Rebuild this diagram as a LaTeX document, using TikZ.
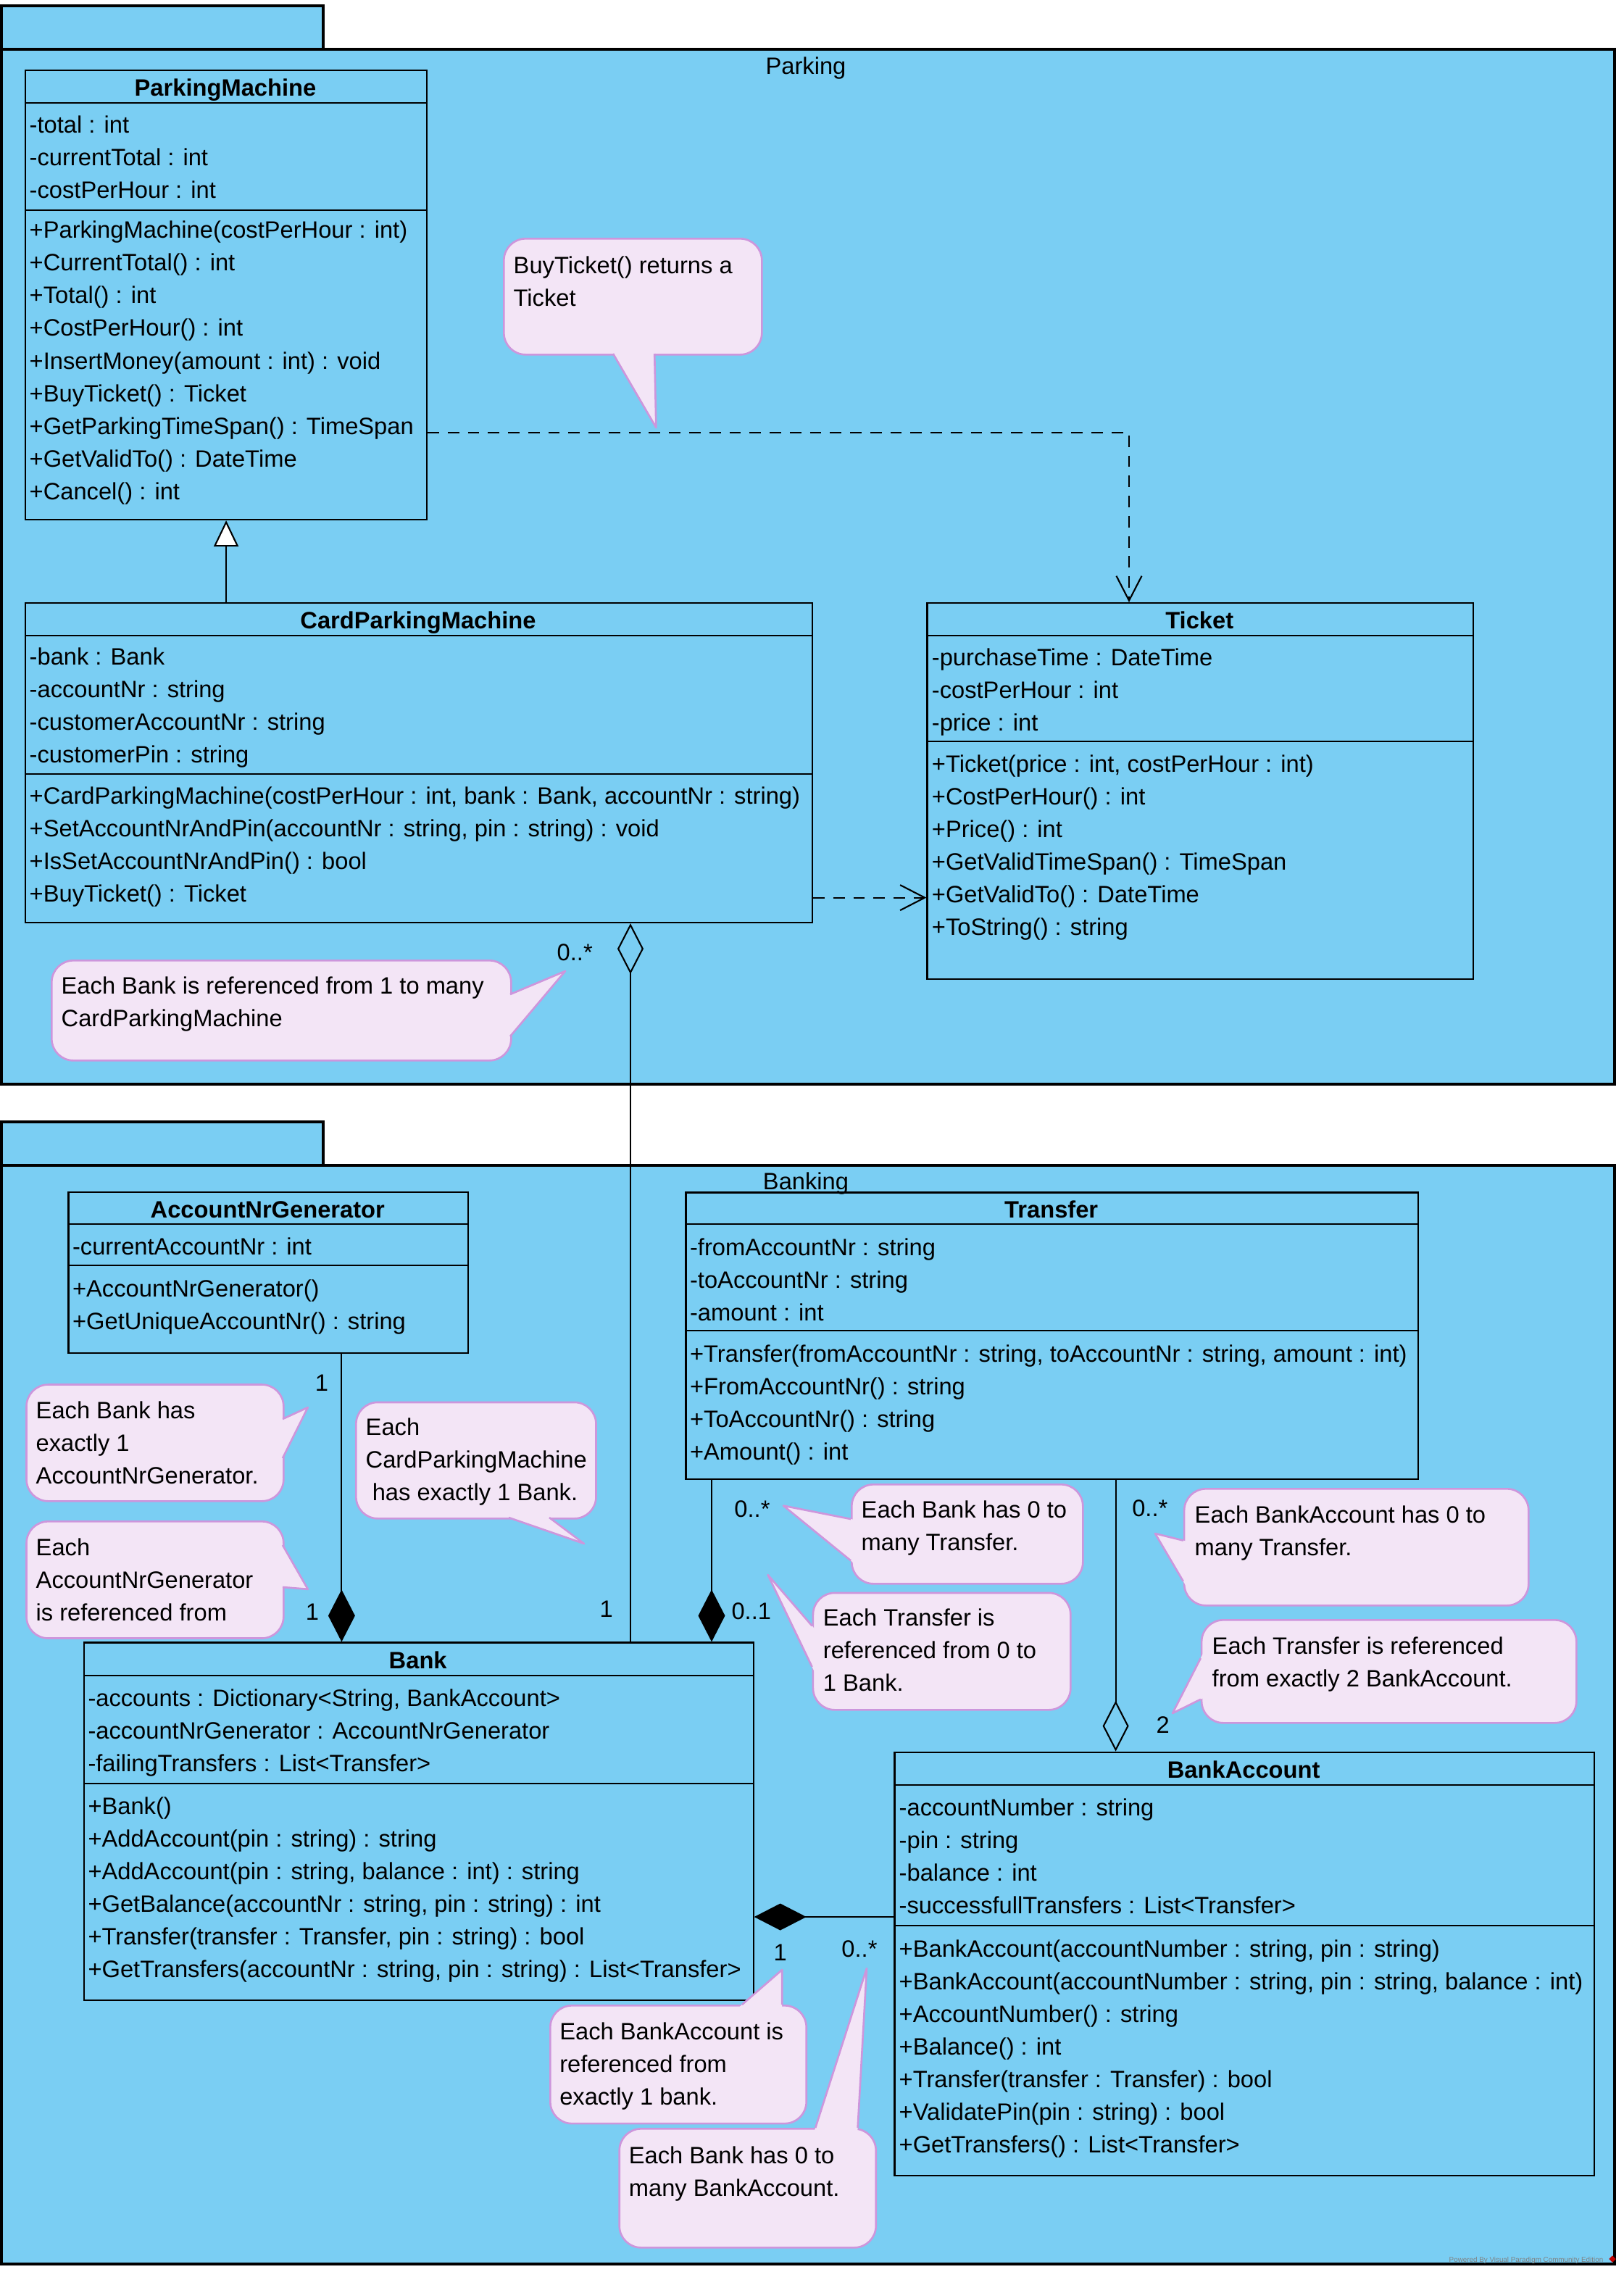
\documentclass[tikz,border=0pt]{standalone}
\usepackage{fontspec}
\setmainfont{Liberation Sans}
\usetikzlibrary{arrows.meta,calc,shapes.geometric}

\definecolor{pkgblue}{RGB}{122,206,243}
\definecolor{notefill}{RGB}{243,229,246}
\definecolor{noteedge}{RGB}{205,150,220}

% class box: name, x1, y1, x2, y2, header line, attribute line, title
\newcommand{\umlclass}[8]{%
  \node[classbox, minimum width={(#4-#2)*0.02cm}, minimum height={(#5-#3)*0.02cm}] (#1) at (#2,#3) {};
  \draw[line width=0.6pt] (#2,#6) -- (#4,#6);
  \draw[line width=0.6pt] (#2,#7) -- (#4,#7);
  \node[title] (#1-title) at ({(#2+#4)/2},{(#3+#6)/2+6.8}) {#8};
}
% text lines: name, x, first baseline, lines
\newcommand{\members}[4]{%
  \foreach \txt [count=\k from 0] in {#4}
    \node[member] (#1-\k) at (#2,{#3+\k*22.55}) {\txt};
}
% note bubble: name, x1, y1, x2, y2, pointer base, tip, pointer base
\newcommand{\umlnote}[8]{%
  \node[note, minimum width={(#4-#2)*0.02cm}, minimum height={(#5-#3)*0.02cm}] (#1) at (#2,#3) {};
  \fill[notefill] ($(#6)!-3pt!(#7)$) -- (#7) -- ($(#8)!-3pt!(#7)$) -- cycle;
  \draw[noteedge, line width=0.75pt, line join=round] (#6) -- (#7) -- (#8);
}

\begin{document}
\begin{tikzpicture}[
    x=0.02cm, y=-0.02cm,
    every node/.style={font=\fontsize{9.3}{12.8}\selectfont},
    pkg/.style={draw, fill=pkgblue, line width=1pt, anchor=north west, inner sep=0},
    classbox/.style={draw, line width=0.6pt, anchor=north west, inner sep=0},
    title/.style={anchor=base, inner sep=0, font=\fontsize{9.3}{12.8}\selectfont\bfseries},
    member/.style={anchor=base west, inner sep=0},
    mult/.style={inner sep=0},
    note/.style={draw=noteedge, fill=notefill, line width=0.75pt, rounded corners=0.3cm, anchor=north west, inner sep=0},
    depend/.style={line width=0.6pt, dash pattern=on 4.5pt off 3.4pt, -{Straight Barb[length=0.34cm,width=0.35cm]}},
    inherit/.style={line width=0.6pt, -{Triangle[fill=white,length=0.36cm,width=0.34cm]}},
    compose/.style={line width=0.6pt, {Diamond[length=0.72cm,width=0.37cm]}-},
    aggregate/.style={line width=0.6pt, {Diamond[open,length=0.7cm,width=0.36cm]}-}
  ]
  \useasboundingbox (0,0) rectangle (1120.5,1567.5);

  % Packages
  \node[pkg, minimum width={222*0.02cm}, minimum height={30*0.02cm}] (PT) at (0,3) {};
  \node[pkg, minimum width={1113*0.02cm}, minimum height={714*0.02cm}] (P) at (0,33) {};
  \node[anchor=base, inner sep=0] (P-name) at (556,51) {Parking};
  \node[pkg, minimum width={222*0.02cm}, minimum height={30*0.02cm}] (BT) at (0,773) {};
  \node[pkg, minimum width={1113*0.02cm}, minimum height={758*0.02cm}] (B) at (0,803) {};
  \node[anchor=base, inner sep=0] (B-name) at (556,820.5) {Banking};

  % Classes
  \umlclass{PM}{17}{48}{294}{358}{71}{145}{ParkingMachine}
  \members{PM-a}{20}{91.6}{-total : int, -currentTotal : int, -costPerHour : int}
  \members{PM-o}{20}{164.3}{+ParkingMachine(costPerHour : int), +CurrentTotal() : int, +Total() : int,
    +CostPerHour() : int, +InsertMoney(amount : int) : void, +BuyTicket() : Ticket,
    +GetParkingTimeSpan() : TimeSpan, +GetValidTo() : DateTime, +Cancel() : int}

  \umlclass{CPM}{17}{415.5}{560}{636}{438.3}{534}{CardParkingMachine}
  \members{CPM-a}{20}{458.6}{-bank : Bank, -accountNr : string, -customerAccountNr : string, -customerPin : string}
  \members{CPM-o}{20}{554.6}{{+CardParkingMachine(costPerHour : int, bank : Bank, accountNr : string)},
    {+SetAccountNrAndPin(accountNr : string, pin : string) : void}, +IsSetAccountNrAndPin() : bool,
    +BuyTicket() : Ticket}

  \umlclass{TK}{639.2}{415.5}{1016}{675}{438.3}{511.3}{Ticket}
  \members{TK-a}{642.6}{459}{-purchaseTime : DateTime, -costPerHour : int, -price : int}
  \members{TK-o}{642.6}{532.6}{{+Ticket(price : int, costPerHour : int)}, +CostPerHour() : int, +Price() : int,
    +GetValidTimeSpan() : TimeSpan, +GetValidTo() : DateTime, +ToString() : string}

  \umlclass{ANG}{46.7}{822}{322.6}{933}{844.4}{873}{AccountNrGenerator}
  \members{ANG-a}{49.7}{865.8}{-currentAccountNr : int}
  \members{ANG-o}{49.7}{894.6}{+AccountNrGenerator(), +GetUniqueAccountNr() : string}

  \umlclass{TR}{472.7}{822.2}{978}{1020}{844.6}{918}{Transfer}
  \members{TR-a}{475.7}{866.3}{-fromAccountNr : string, -toAccountNr : string, -amount : int}
  \members{TR-o}{475.7}{939.6}{{+Transfer(fromAccountNr : string, toAccountNr : string, amount : int)},
    +FromAccountNr() : string, +ToAccountNr() : string, +Amount() : int}

  \umlclass{BK}{57.4}{1132.7}{519.3}{1379.4}{1156}{1230.6}{Bank}
  \members{BK-a}{60.4}{1177.3}{{-accounts : Dictionary<String, BankAccount>}, -accountNrGenerator : AccountNrGenerator,
    -failingTransfers : List<Transfer>}
  \members{BK-o}{60.4}{1251.6}{+Bank(), +AddAccount(pin : string) : string, {+AddAccount(pin : string, balance : int) : string},
    {+GetBalance(accountNr : string, pin : string) : int}, {+Transfer(transfer : Transfer, pin : string) : bool},
    {+GetTransfers(accountNr : string, pin : string) : List<Transfer>}}

  \umlclass{BA}{616.7}{1208.3}{1099.5}{1500.5}{1231.3}{1328.5}{BankAccount}
  \members{BA-a}{620}{1252.6}{-accountNumber : string, -pin : string, -balance : int, -successfullTransfers : List<Transfer>}
  \members{BA-o}{620}{1350}{{+BankAccount(accountNumber : string, pin : string)},
    {+BankAccount(accountNumber : string, pin : string, balance : int)}, +AccountNumber() : string, +Balance() : int,
    +Transfer(transfer : Transfer) : bool, +ValidatePin(pin : string) : bool, +GetTransfers() : List<Transfer>}

  % Notes
  \umlnote{N1}{347}{164}{525}{244}{423,244}{452.7,295}{451.6,244}
  \members{N1-t}{354}{188.6}{BuyTicket() returns a, Ticket}
  \umlnote{N2}{35}{662}{352}{731}{352,686}{390,670}{352,715}
  \members{N2-t}{42}{685.6}{Each Bank is referenced from 1 to many, CardParkingMachine}
  \umlnote{N3}{17.6}{954.6}{195}{1035}{195,979}{212.4,971}{195,1006}
  \members{N3-t}{24.5}{978.6}{Each Bank has, exactly 1, AccountNrGenerator.}
  \umlnote{N4}{17.6}{1049}{195}{1129.6}{195,1066}{212.4,1096.4}{195,1095}
  \members{N4-t}{24.5}{1073.2}{Each, AccountNrGenerator, is referenced from}
  \umlnote{N5}{245}{966.8}{410.6}{1047}{351,1047}{403,1065}{379,1047}
  \members{N5-t}{252}{990.3}{Each, CardParkingMachine, {\ has exactly 1 Bank.}}
  \umlnote{N6}{587}{1023.5}{746.5}{1092}{587,1048}{540.5,1038.8}{587,1076.7}
  \members{N6-t}{594}{1047.4}{Each Bank has 0 to, many Transfer.}
  \umlnote{N7}{560.3}{1098.3}{738}{1179}{560.3,1121.7}{529.8,1086.5}{560.3,1150}
  \members{N7-t}{567.6}{1121.6}{Each Transfer is, referenced from 0 to, 1 Bank.}
  \umlnote{N8}{816.4}{1026.5}{1054}{1107}{816.4,1062.8}{797,1058}{816.4,1091}
  \members{N8-t}{824}{1050.6}{Each BankAccount has 0 to, many Transfer.}
  \umlnote{N9}{828.4}{1117}{1087}{1188}{828.4,1144}{809,1182}{828.4,1172.4}
  \members{N9-t}{836}{1141.1}{Each Transfer is referenced, from exactly 2 BankAccount.}
  \umlnote{N10}{379}{1383}{555.7}{1464.4}{512,1383}{539.6,1359}{539.6,1383}
  \members{N10-t}{385.8}{1407.1}{Each BankAccount is, referenced from, exactly 1 bank.}
  \umlnote{N11}{426.7}{1468}{603.7}{1550}{562.6,1468}{598,1358}{591.8,1468}
  \members{N11-t}{433.6}{1492.6}{Each Bank has 0 to, many BankAccount.}

  % Relations
  \coordinate (d1) at (779,298.6);
  \coordinate (d2) at (600,619.3);
  \coordinate (a1) at (435,700);
  \coordinate (a2) at (769.8,1100);
  \coordinate (c1) at (235.7,1000);
  \coordinate (c2) at (491,1050);
  \coordinate (c3) at (570,1322.5);
  \draw[inherit] (CPM.north -| PM.south) -- (PM.south);
  \draw[depend] (PM.east |- d1) -- (d1) -- (TK.north -| d1);
  \draw[depend] (CPM.east |- d2) -- (TK.west |- d2);
  \draw[aggregate] (CPM.south -| a1) -- (BK.north -| a1);
  \draw[compose] (BK.north -| c1) -- (ANG.south -| c1);
  \draw[compose] (BK.north -| c2) -- (TR.south -| c2);
  \draw[aggregate] (BA.north -| a2) -- (TR.south -| a2);
  \draw[compose] (BK.east |- c3) -- (BA.west |- c3);

  % Multiplicities
  \node[mult] (m1) at (396.6,657) {0..*};
  \node[mult] (m2) at (222,954) {1};
  \node[mult] (m3) at (215.5,1112) {1};
  \node[mult] (m4) at (418.3,1110) {1};
  \node[mult] (m5) at (519,1041) {0..*};
  \node[mult] (m6) at (518.4,1111.7) {0..1};
  \node[mult] (m7) at (793.4,1040.6) {0..*};
  \node[mult] (m8) at (802.3,1190) {2};
  \node[mult] (m9) at (538.4,1347) {1};
  \node[mult] (m10) at (593,1344.4) {0..*};

  % Watermark
  \node[font=\fontsize{2.8}{3}\selectfont, text=gray, inner sep=0] (wm) at (1053,1559.5) {Powered By Visual Paradigm Community Edition};
  \node[fill=red!75!black, diamond, inner sep=0, minimum size=0.1cm] (logo) at (1112.5,1558.5) {};
\end{tikzpicture}
\end{document}
